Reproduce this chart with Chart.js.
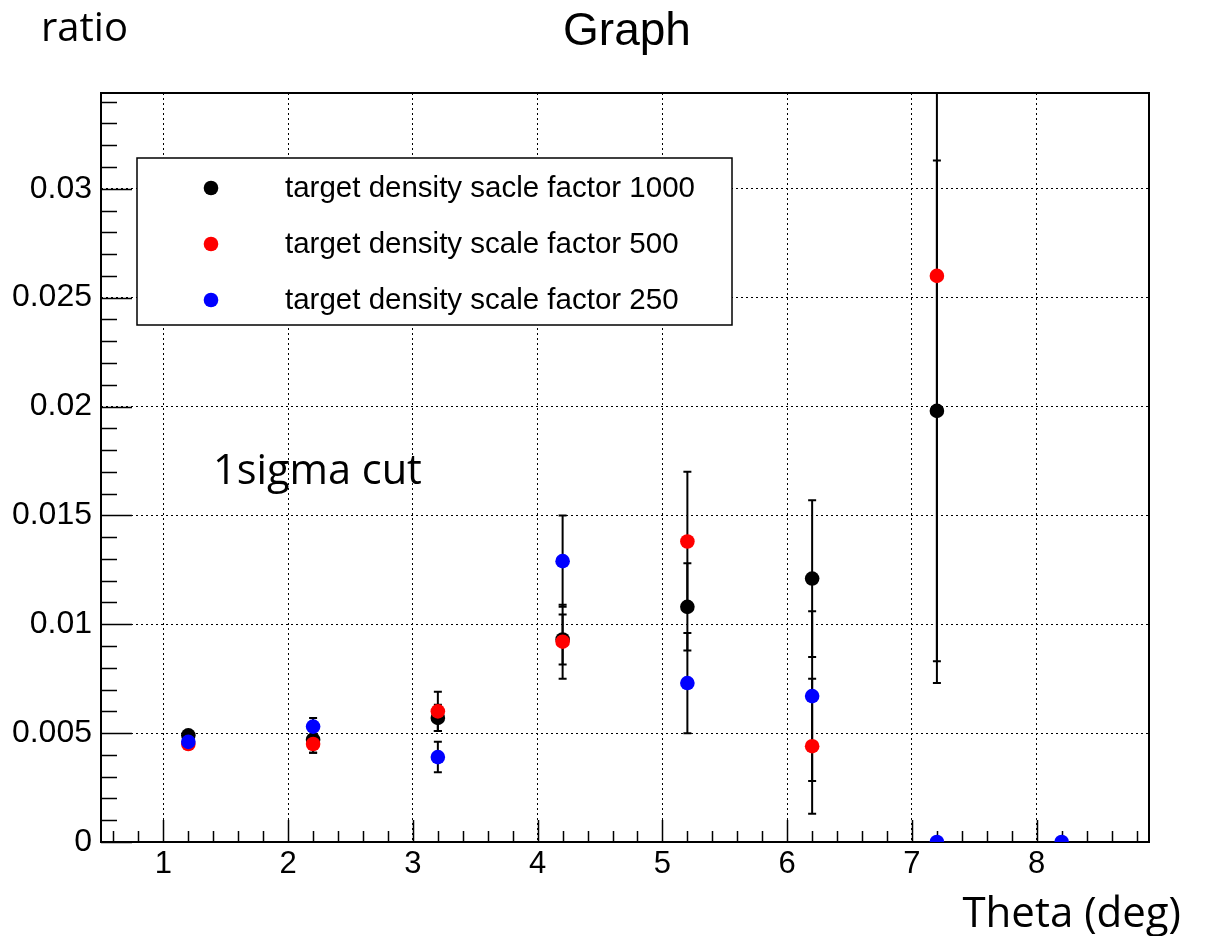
<!DOCTYPE html>
<html>
<head>
<meta charset="utf-8">
<script src="https://cdn.jsdelivr.net/npm/chart.js@4/dist/chart.umd.min.js"></script>
<style>
  html, body { margin: 0; padding: 0; background: #fff; }
  #wrap { width: 1208px; height: 936px; }
</style>
</head>
<body>
<div id="wrap"><canvas id="c" width="1208" height="936"></canvas></div>
<script>
// ---- data ----
const theta = [1.2, 2.2, 3.2, 4.2, 5.2, 6.2, 7.2];
const thetaBlue = [1.2, 2.2, 3.2, 4.2, 5.2, 6.2, 7.2, 8.2];
const ratio1000 = [0.0049, 0.0047, 0.0057, 0.0093, 0.0108, 0.0121, 0.0198];
const err1000   = [0.0002, 0.0006, 0.0006, 0.00115, 0.0020, 0.0036, 0.0115];
const ratio500  = [0.0045, 0.0045, 0.0060, 0.0092, 0.0138, 0.0044, 0.0260];
const err500    = [0.0002, 0.0004, 0.0009, 0.0017, 0.0032, 0.0031, 0.0187];
const ratio250  = [0.0046, 0.0053, 0.0039, 0.0129, 0.0073, 0.0067, 0, 0];
const err250    = [0.0002, 0.0004, 0.0007, 0.0021, 0.0023, 0.0039, 0, 0];
const seriesLabels = ['target density sacle factor 1000', 'target density scale factor 500', 'target density scale factor 250'];
const seriesColors = ['#000000', '#ff0000', '#0000ff'];
const xMajorTicks = [1, 2, 3, 4, 5, 6, 7, 8];
const yMajorTicks = [0, 0.005, 0.01, 0.015, 0.02, 0.025, 0.03];

function pts(xs, ys, es) { return xs.map((x, i) => ({ x: x, y: ys[i], err: es[i] })); }

const MARKER_R = 7.3;
const datasets = [
  { label: seriesLabels[0], data: pts(theta, ratio1000, err1000), order: 2 },
  { label: seriesLabels[1], data: pts(theta, ratio500, err500), order: 1 },
  { label: seriesLabels[2], data: pts(thetaBlue, ratio250, err250), order: 0 }
].map((d, i) => Object.assign(d, {
  backgroundColor: seriesColors[i], borderColor: seriesColors[i],
  pointRadius: MARKER_R, pointHoverRadius: MARKER_R, pointBorderWidth: 0, showLine: false
}));

const SANS = '"Liberation Sans", Arial, sans-serif';
const CAL_FONT = '"Open Sans", sans-serif';

const decor = {
  id: 'decor',
  beforeDraw(chart) {
    const ctx = chart.ctx;
    ctx.save(); ctx.fillStyle = '#fff'; ctx.fillRect(0, 0, chart.width, chart.height); ctx.restore();
  },
  beforeDatasetsDraw(chart) {
    const ctx = chart.ctx, a = chart.chartArea;
    const xs = chart.scales.x, ys = chart.scales.y;
    ctx.save();
    ctx.strokeStyle = '#000';
    // frame
    ctx.lineWidth = 2;
    ctx.strokeRect(a.left, a.top, a.right - a.left, a.bottom - a.top);
    // x ticks (inward)
    ctx.lineWidth = 1.5;
    ctx.beginPath();
    for (let k = 3; k <= 44; k++) {
      const v = k * 0.2;
      if (v < xs.min || v > xs.max) continue;
      const px = Math.round(xs.getPixelForValue(v)) + 0.5;
      const major = Math.abs(v - Math.round(v)) < 1e-6;
      ctx.moveTo(px, a.bottom);
      ctx.lineTo(px, a.bottom - (major ? 22 : 11));
    }
    // y ticks (inward)
    for (let k = 0; k <= 34; k++) {
      const v = k * 0.001;
      if (v > ys.max) continue;
      const py = Math.round(ys.getPixelForValue(v)) + 0.5;
      const major = k % 5 === 0;
      ctx.moveTo(a.left, py);
      ctx.lineTo(a.left + (major ? 31 : 16), py);
    }
    ctx.stroke();
    // error bars
    ctx.beginPath();
    ctx.rect(a.left, a.top, a.right - a.left, a.bottom - a.top);
    ctx.clip();
    ctx.lineWidth = 2;
    chart.data.datasets.forEach(ds => {
      ds.data.forEach(p => {
        if (!p.err) return;
        const px = xs.getPixelForValue(p.x);
        const yHi = ys.getPixelForValue(p.y + p.err);
        const yLo = ys.getPixelForValue(p.y - p.err);
        ctx.beginPath();
        ctx.moveTo(px, yLo); ctx.lineTo(px, yHi);
        ctx.moveTo(px - 4, yHi); ctx.lineTo(px + 4, yHi);
        ctx.moveTo(px - 4, yLo); ctx.lineTo(px + 4, yLo);
        ctx.stroke();
      });
    });
    ctx.restore();
  },
  afterDatasetsDraw(chart) {
    const ctx = chart.ctx;
    ctx.save();
    // legend box
    ctx.fillStyle = '#fff';
    ctx.fillRect(137, 158, 595, 167);
    ctx.strokeStyle = '#000';
    ctx.lineWidth = 1.5;
    ctx.strokeRect(137, 158, 595, 167);
    const rows = [188, 244, 300];
    ctx.font = '29.5px ' + SANS;
    ctx.textBaseline = 'middle';
    ctx.textAlign = 'left';
    chart.data.datasets.forEach((ds, i) => {
      ctx.fillStyle = ds.backgroundColor;
      ctx.beginPath(); ctx.arc(211, rows[i], MARKER_R, 0, Math.PI * 2); ctx.fill();
      ctx.fillStyle = '#000';
      ctx.fillText(ds.label, 285, rows[i] + 1);
    });
    // texts
    ctx.textBaseline = 'alphabetic';
    ctx.fillStyle = '#000';
    ctx.font = '46px ' + SANS;
    ctx.textAlign = 'center';
    ctx.fillText('Graph', 627, 45);
    ctx.textAlign = 'left';
    ctx.font = '40px ' + CAL_FONT;
    ctx.fillText('ratio', 41, 41);
    ctx.font = '41.5px ' + CAL_FONT;
    ctx.fillText('1sigma cut', 213, 484);
    ctx.font = '42px ' + CAL_FONT;
    ctx.textAlign = 'right';
    ctx.fillText('Theta (deg)', 1181, 927);
    ctx.restore();
  }
};

new Chart(document.getElementById('c'), {
  type: 'scatter',
  data: { datasets: datasets },
  options: {
    responsive: false,
    animation: false,
    events: [],
    layout: { padding: { top: 93, right: 59, left: 0, bottom: 0 } },
    plugins: { legend: { display: false }, tooltip: { enabled: false }, title: { display: false } },
    scales: {
      x: {
        type: 'linear', position: 'bottom', min: 0.5, max: 8.9,
        afterFit(s) { s.height = 94; },
        afterBuildTicks(s) { s.ticks = xMajorTicks.map(v => ({ value: v })); },
        ticks: { stepSize: 1, includeBounds: false, color: '#000', font: { family: SANS, size: 31 }, padding: 4, maxRotation: 0, callback: v => String(v) },
        grid: { color: '#000', lineWidth: 1, drawTicks: false },
        border: { display: false, dash: [2, 3] }
      },
      y: {
        type: 'linear', position: 'left', min: 0, max: 0.0344,
        afterFit(s) { s.width = 101; },
        afterBuildTicks(s) { s.ticks = yMajorTicks.map(v => ({ value: v })); },
        ticks: { stepSize: 0.005, includeBounds: false, color: '#000', font: { family: SANS, size: 32 }, padding: 9, callback: v => String(+Number(v).toFixed(4)) },
        grid: { color: '#000', lineWidth: 1, drawTicks: false },
        border: { display: false, dash: [2, 3] }
      }
    }
  },
  plugins: [decor]
});
</script>
</body>
</html>
